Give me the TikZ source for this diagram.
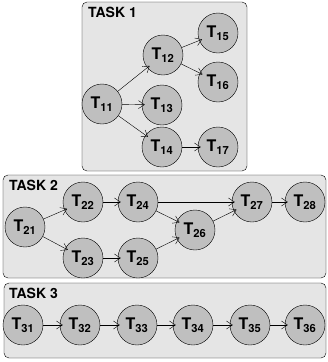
\documentclass[tikz,border=0pt]{standalone}
\usepackage{fontspec}
\setmainfont{TeX Gyre Heros}
\usetikzlibrary{arrows.meta,positioning}
\definecolor{nodegray}{gray}{0.75}
\definecolor{boxgray}{gray}{0.9}
\tikzset{>={Straight Barb[length=6pt,width=8pt]},
	task/.style={circle,draw,fill=nodegray,minimum size=40pt,inner sep=0pt,
		font=\bfseries\fontsize{16}{16}\selectfont},
	taskbox/.style={draw,fill=boxgray,rounded corners=5pt},
	boxlabel/.style={anchor=north west,inner sep=0pt,
		font=\bfseries\fontsize{14}{14}\selectfont},
	dep/.style={->,shorten >=-3pt}}
\newcommand{\tn}[1]{T\textsubscript{#1}}

\begin{document}
\begin{tikzpicture}[x=1pt,y=-1pt]
	\useasboundingbox (0,0) rectangle (328,362);
	% task boxes
	\draw[taskbox] (82,2) rectangle (247,171);
	\draw[taskbox] (3,175) rectangle (326,278);
	\draw[taskbox] (4,283) rectangle (326,358);
	\node[boxlabel] (lab1) at (88,7) {TASK 1};
	\node[boxlabel] (lab2) at (9,180) {TASK 2};
	\node[boxlabel] (lab3) at (9,288) {TASK 3};
	% task 1
	\node[task] (t11) at (102,104) {\tn{11}};
	\node[task] (t12) at (163,55) {\tn{12}};
	\node[task] (t13) at (162,105) {\tn{13}};
	\node[task] (t14) at (162,147) {\tn{14}};
	\node[task] (t15) at (218,33) {\tn{15}};
	\node[task] (t16) at (218,82) {\tn{16}};
	\node[task] (t17) at (218,147) {\tn{17}};
	% task 2
	\node[task] (t21) at (25,227) {\tn{21}};
	\node[task] (t22) at (83,202) {\tn{22}};
	\node[task] (t23) at (83,258) {\tn{23}};
	\node[task] (t24) at (138,202) {\tn{24}};
	\node[task] (t25) at (138,258) {\tn{25}};
	\node[task] (t26) at (195,230) {\tn{26}};
	\node[task] (t27) at (252,202) {\tn{27}};
	\node[task] (t28) at (305,202) {\tn{28}};
	% task 3
	\foreach \i/\x in {1/23,2/80,3/137,4/193,5/250,6/305}
		\node[task] (t3\i) at (\x,325) {\tn{3\i}};
	% dependencies
	\foreach \a/\b in {11/12,11/13,11/14,12/15,12/16,14/17,
		21/22,21/23,22/24,23/25,24/26,25/26,24/27,26/27,27/28,
		31/32,32/33,33/34,34/35,35/36}
		\draw[dep] (t\a) -- (t\b);
\end{tikzpicture}
\end{document}
